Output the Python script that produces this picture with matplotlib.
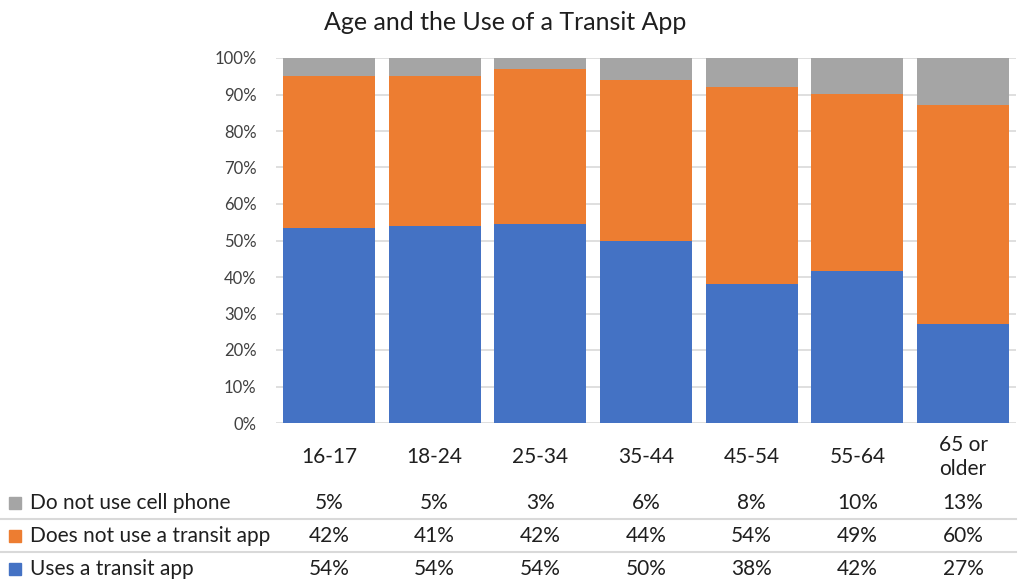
import matplotlib
matplotlib.use("Agg")
import matplotlib.pyplot as plt
import numpy as np
from matplotlib.lines import Line2D
from matplotlib.patches import Rectangle

plt.rcParams["font.family"] = ["Lato", "DejaVu Sans"]

# ── data (percent, as shown in the data table)
age_groups = ["16-17", "18-24", "25-34", "35-44", "45-54", "55-64", "65 or\nolder"]
uses_app = [54, 54, 54, 50, 38, 42, 27]
no_app = [42, 41, 42, 44, 54, 49, 60]
no_phone = [5, 5, 3, 6, 8, 10, 13]

series_names = ["Do not use cell phone", "Does not use a transit app", "Uses a transit app"]
series_values = [no_phone, no_app, uses_app]
COLORS = {"Uses a transit app": "#4472C4",
          "Does not use a transit app": "#ED7D31",
          "Do not use cell phone": "#A5A5A5"}
TEXT = "#1f1f1f"
GRID = "#D9D9D9"

W, H = 1029, 586
fig = plt.figure(figsize=(W / 100, H / 100), dpi=100)
ax = fig.add_axes([276 / W, 1 - 423 / H, (1016 - 276) / W, (423 - 58) / H])

# 100% stacked: normalise each column to its total
u = np.array(uses_app, float)
n = np.array(no_app, float)
p = np.array(no_phone, float)
tot = u + n + p
x = np.arange(len(age_groups))
bw = 0.87
ax.bar(x, u / tot, bw, color=COLORS["Uses a transit app"], zorder=3)
ax.bar(x, n / tot, bw, bottom=u / tot, color=COLORS["Does not use a transit app"], zorder=3)
ax.bar(x, p / tot, bw, bottom=(u + n) / tot, color=COLORS["Do not use cell phone"], zorder=3)

ax.set_xlim(-0.5, len(age_groups) - 0.5)
ax.set_ylim(0, 1)
ax.set_yticks(np.linspace(0, 1, 11))
ax.set_yticklabels([f"{v}%" for v in range(0, 101, 10)], fontsize=12, color="#404040")
ax.tick_params(axis="y", length=0, pad=14)
ax.set_xticks([])
ax.grid(axis="y", color=GRID, linewidth=1.2, zorder=0)
for s in ax.spines.values():
    s.set_visible(False)

fig.text(505 / W, 1 - 22 / H, "Age and the Use of a Transit App",
         ha="center", va="center", fontsize=18, color=TEXT)

# category labels under the plot
for i, lab in enumerate(age_groups):
    ax.text(i, -(457 - 423) / 365, lab, ha="center", va="center",
            fontsize=15, color=TEXT, linespacing=1.25, transform=ax.get_xaxis_transform())

# data table
row_y = [503, 536, 569]
for ry, name, vals in zip(row_y, series_names, series_values):
    yy = -(ry - 423) / 365
    for i, v in enumerate(vals):
        ax.text(i, yy, f"{v}%", ha="center", va="center", fontsize=15, color=TEXT,
                transform=ax.get_xaxis_transform())
    fig.text(30 / W, 1 - ry / H, name, ha="left", va="center", fontsize=15, color=TEXT)
    fig.patches.append(Rectangle((9 / W, 1 - (ry + 6) / H), 12 / W, 12 / H,
                                 color=COLORS[name], transform=fig.transFigure))

for ly in [519, 552]:
    fig.add_artist(Line2D([0, 1016 / W], [1 - ly / H] * 2, color=GRID, linewidth=1.5))

fig.savefig("out.png", dpi=100)
